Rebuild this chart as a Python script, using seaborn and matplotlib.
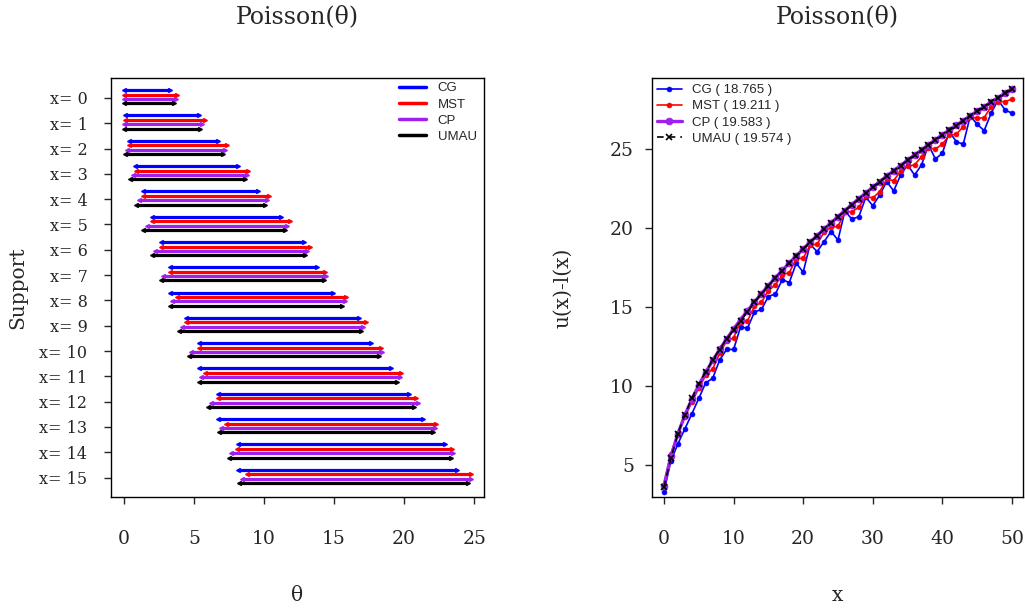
import matplotlib
matplotlib.use("Agg")
import matplotlib.pyplot as plt
from matplotlib.lines import Line2D
import pandas as pd
import seaborn as sns

# ---------------- data ----------------
support = list(range(16))
support_labels = ["x= %d" % k for k in support]
methods = ["CG", "MST", "CP", "UMAU"]
colors = ["#0000FF", "#FF0000", "#A020F0", "#000000"]

cg_lower = [0.000, 0.051, 0.355, 0.818, 1.366, 1.970, 2.613, 3.285, 3.285, 4.460, 5.323, 5.323, 6.686, 6.686, 8.102, 8.102]
cg_upper = [3.285, 5.323, 6.686, 8.102, 9.598, 11.177, 12.817, 13.765, 14.921, 16.768, 17.633, 19.050, 20.335, 21.364, 22.945, 23.762]
mst_lower = [0.00, 0.05, 0.36, 0.82, 1.37, 1.97, 2.61, 3.29, 3.76, 4.46, 5.32, 5.76, 6.69, 7.27, 8.10, 8.76]
mst_upper = [3.76, 5.76, 7.33, 8.85, 10.35, 11.82, 13.30, 14.37, 15.82, 17.30, 18.37, 19.80, 20.81, 22.30, 23.39, 24.80]
cp_lower = [0.000, 0.025, 0.242, 0.619, 1.090, 1.623, 2.202, 2.814, 3.454, 4.115, 4.795, 5.491, 6.201, 6.922, 7.654, 8.395]
cp_upper = [3.689, 5.572, 7.225, 8.767, 10.242, 11.668, 13.059, 14.423, 15.763, 17.085, 18.390, 19.682, 20.962, 22.230, 23.490, 24.740]
umau_lower = [0.00, 0.02, 0.10, 0.45, 0.84, 1.38, 2.02, 2.62, 3.29, 3.93, 4.64, 5.36, 6.02, 6.77, 7.50, 8.20]
umau_upper = [3.60, 5.45, 7.08, 8.62, 10.06, 11.52, 12.90, 14.26, 15.59, 16.90, 18.18, 19.49, 20.71, 22.07, 23.31, 24.53]

x_vals = list(range(51))
cg_width = [3.29, 5.27, 6.33, 7.28, 8.23, 9.21, 10.20, 10.48, 11.64, 12.31, 12.31,
            13.73, 13.65, 14.68, 14.84, 15.66, 15.82, 16.73, 16.54, 17.77, 17.20,
            18.97, 18.50, 19.13, 19.77, 19.24, 21.08, 20.55, 20.72, 21.94, 21.41,
            22.09, 22.93, 22.34, 23.35, 23.99, 23.35, 23.99, 25.25, 24.37, 24.73,
            26.10, 25.46, 25.30, 27.09, 26.56, 26.16, 27.26, 28.10, 27.47, 27.26]
mst_width = [3.76, 5.71, 6.97, 8.03, 8.98, 9.85, 10.69, 11.08, 12.06, 12.84, 13.05,
             14.04, 14.12, 15.03, 15.29, 16.04, 16.39, 17.03, 17.17, 18.04, 18.08,
             18.90, 18.97, 19.73, 20.04, 20.10, 21.00, 21.03, 21.31, 22.00, 21.90,
             22.30, 23.08, 22.99, 23.61, 23.90, 23.99, 24.51, 25.04, 25.00, 25.30,
             25.89, 25.93, 26.41, 27.01, 26.94, 26.98, 27.68, 28.00, 27.99, 28.16]
cp_width = [3.69, 5.55, 6.98, 8.15, 9.15, 10.05, 10.86, 11.61, 12.31, 12.97, 13.60,
            14.19, 14.76, 15.31, 15.84, 16.35, 16.84, 17.31, 17.77, 18.22, 18.66,
            19.10, 19.51, 19.92, 20.32, 20.71, 21.10, 21.48, 21.85, 22.21, 22.57,
            22.93, 23.28, 23.62, 23.95, 24.29, 24.61, 24.93, 25.25, 25.57, 25.88,
            26.19, 26.49, 26.79, 27.09, 27.38, 27.67, 27.96, 28.24, 28.52, 28.80]
umau_width = [3.60, 5.43, 6.98, 8.17, 9.22, 10.14, 10.88, 11.64, 12.30, 12.97, 13.54,
              14.13, 14.69, 15.30, 15.81, 16.33, 16.83, 17.30, 17.76, 18.21, 18.65,
              19.09, 19.50, 19.91, 20.31, 20.70, 21.09, 21.47, 21.84, 22.20, 22.56,
              22.92, 23.27, 23.61, 23.94, 24.28, 24.60, 24.92, 25.24, 25.56, 25.87,
              26.18, 26.48, 26.78, 27.08, 27.37, 27.66, 27.95, 28.23, 28.51, 28.79]
legend_labels = ["CG ( 18.765 )", "MST ( 19.211 )", "CP ( 19.583 )", "UMAU ( 19.574 )"]
theta_ticks = [0, 5, 10, 15, 20, 25]
x_ticks = [0, 10, 20, 30, 40, 50]
w_ticks = [5, 10, 15, 20, 25]

# ---------------- style ----------------
sns.set_style("ticks")
plt.rcParams["font.family"] = ["DejaVu Serif"]
SANS = "Liberation Sans"

fig = plt.figure(figsize=(10.25, 6.1), dpi=100)
ax1 = fig.add_axes([111 / 1025, 1 - 497 / 610, 373 / 1025, 419 / 610])
ax2 = fig.add_axes([652 / 1025, 1 - 497 / 610, 371 / 1025, 419 / 610])

# ---------------- left panel ----------------
lowers = [cg_lower, mst_lower, cp_lower, umau_lower]
uppers = [cg_upper, mst_upper, cp_upper, umau_upper]
offsets = [-0.31, -0.13, 0.04, 0.21]
for lo, up, col, off in zip(lowers, uppers, colors, offsets):
    ys = [s + off for s in support]
    ax1.hlines(ys, lo, up, color=col, linewidth=2.3)
    ax1.plot(lo, ys, linestyle="none", marker="<", markersize=2.8, color=col)
    ax1.plot(up, ys, linestyle="none", marker=">", markersize=2.8, color=col)

ax1.set_xlim(-0.93, 25.7)
ax1.set_ylim(15.77, -0.79)
ax1.set_yticks(support)
ax1.set_yticklabels(support_labels, fontsize=11.5)
ax1.set_xticks(theta_ticks)
ax1.tick_params(axis="x", labelsize=13.5, length=5, pad=19, width=1)
ax1.tick_params(axis="y", length=5, pad=12, width=1)
ax1.set_xlabel("θ", fontsize=14.5)
ax1.set_ylabel("Support", fontsize=14.5)
ax1.xaxis.set_label_coords(0.5, -0.236)
ax1.xaxis.label.set_va("center")
ax1.yaxis.set_label_coords(-0.249, 0.5)
ax1.yaxis.label.set_va("center")
ax1.text(0.5, 1.146, "Poisson(θ)", transform=ax1.transAxes, ha="center", va="center", fontsize=17)
handles1 = [Line2D([0], [0], color=c, linewidth=2.5) for c in colors]
ax1.legend(handles1, methods, loc="upper right", frameon=False,
           prop={"family": SANS, "size": 9.5}, handlelength=2.0, handletextpad=0.9,
           labelspacing=0.3, borderaxespad=0.3, bbox_to_anchor=(1.005, 1.012))

# ---------------- right panel ----------------
widths = [cg_width, mst_width, cp_width, umau_width]
markers = ["o", "o", "o", "x"]
lws = [1.2, 1.2, 2.4, 1.2]
mss = [3.5, 3.5, 5, 5]
for w, col, mk, lw, ms, m in zip(widths, colors, markers, lws, mss, methods):
    df = pd.DataFrame({"x": x_vals, "w": w})
    sns.lineplot(data=df, x="x", y="w", ax=ax2, color=col, marker=mk,
                 linewidth=lw, markersize=ms, markeredgecolor=col,
                 markeredgewidth=1.2 if mk == "x" else 0.5)
    if m == "UMAU":
        ax2.lines[-1].set_dashes([4, 3])

ax2.set_xlim(-1.72, 51.58)
ax2.set_ylim(2.97, 29.49)
ax2.set_xticks(x_ticks)
ax2.set_yticks(w_ticks)
ax2.tick_params(axis="x", labelsize=13.5, length=5, pad=19, width=1)
ax2.tick_params(axis="y", labelsize=13.5, length=5, pad=8, width=1)
ax2.set_xlabel("x", fontsize=14.5)
ax2.set_ylabel("u(x)-l(x)", fontsize=14.5)
ax2.xaxis.set_label_coords(0.5, -0.236)
ax2.xaxis.label.set_va("center")
ax2.yaxis.set_label_coords(-0.240, 0.5)
ax2.yaxis.label.set_va("center")
ax2.text(0.5, 1.146, "Poisson(θ)", transform=ax2.transAxes, ha="center", va="center", fontsize=17)
handles2 = []
for col, mk, lw, ms in zip(colors, markers, lws, mss):
    h = Line2D([0], [0], color=col, marker=mk, linewidth=lw, markersize=ms,
               markeredgecolor=col, markeredgewidth=1.2 if mk == "x" else 0.5)
    handles2.append(h)
handles2[3].set_dashes([4, 3])
ax2.legend(handles2, legend_labels, loc="upper left", frameon=False,
           prop={"family": SANS, "size": 9.5}, handlelength=1.9, handletextpad=0.8,
           labelspacing=0.3, borderaxespad=0.3, bbox_to_anchor=(-0.012, 1.008))

for ax in (ax1, ax2):
    for sp in ax.spines.values():
        sp.set_visible(True)
        sp.set_color("black")
        sp.set_linewidth(1.0)

fig.savefig("out.png", dpi=100)
